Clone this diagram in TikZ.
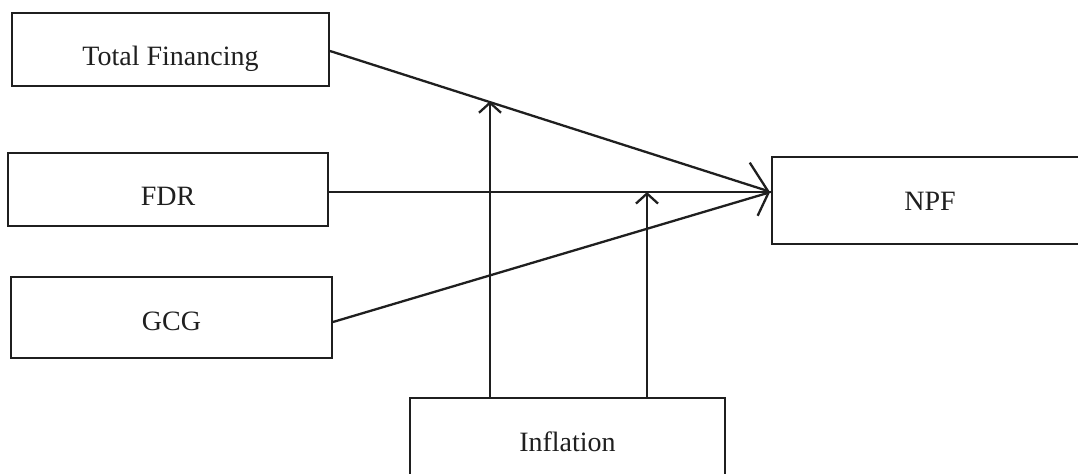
\documentclass[tikz,border=0pt]{standalone}
\usepackage{fontspec}
\setmainfont{Liberation Serif}
\usepackage{xcolor}
\usepackage{tikz}
\usetikzlibrary{positioning,arrows.meta,calc}

\begin{document}
\begin{tikzpicture}[x=0.5pt, y=-0.5pt,
    box/.style={draw=black!88, rectangle, line width=1pt, font=\fontsize{14}{16}\selectfont, text=black!88, text depth=0pt},
    arrow/.style={line width=1.15pt, draw=black!88},
    upbarb/.style={-{Straight Barb[left, length=13pt, width=21.5pt, line width=1.15pt]}},
    lowbarb/.style={-{Straight Barb[right, length=8.5pt, width=19pt, line width=1.15pt]}},
    modarrow/.style={-{Straight Barb[length=5pt, width=11pt, line width=1.15pt]}, line width=1.15pt, draw=black!88}
]
    \path[use as bounding box, clip] (0,0) rectangle (1078,474);

    \node[box, minimum width=158.5pt, minimum height=36.5pt, text height=15.7pt] (tf) at (170.5, 49.5) {Total Financing};
    \node[box, minimum width=160pt, minimum height=36.5pt, text height=15.7pt] (fdr) at (168, 189.5) {FDR};
    \node[box, minimum width=160.5pt, minimum height=40.5pt, text height=12.7pt] (gcg) at (171.5, 317.5) {GCG};
    \node[box, minimum width=158pt, minimum height=43.5pt, text height=10.2pt] (npf) at (930, 200.5) {NPF};
    \node[box, minimum width=157.5pt, minimum height=44pt, text height=9.2pt] (infl) at (567.5, 442) {Inflation};

    \coordinate (hub) at ($(npf.west)+(0,-8.5)$);
    \coordinate (m1) at ($(infl.north west)+(81,0)$);
    \coordinate (m1top) at ($(m1)+(0,-300)$);
    \coordinate (m2) at ($(infl.north west)+(238,2)$);

    \draw[arrow, upbarb] ($(tf.east)+(0,1.5)$) -- (hub);
    \draw[arrow] (fdr.east |- hub) -- (hub);
    \draw[arrow, lowbarb] ($(gcg.east)+(0,4.5)$) -- (hub);

    \draw[modarrow] (m1) -- (intersection of tf.east--hub and m1--m1top);
    \draw[modarrow] (m2) -- (m2 |- hub);

\end{tikzpicture}
\end{document}
